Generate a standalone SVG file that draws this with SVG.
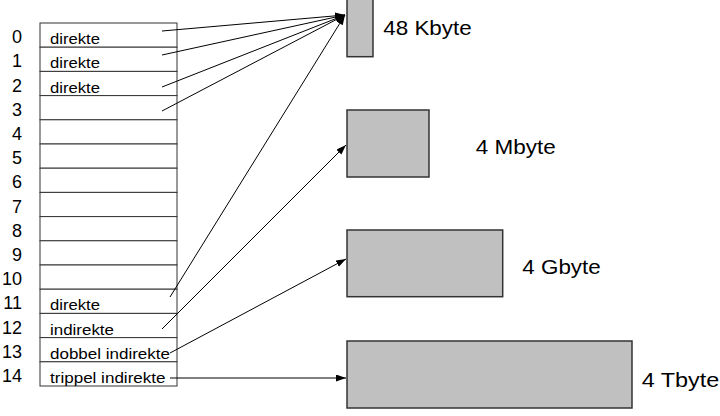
<svg xmlns="http://www.w3.org/2000/svg" width="720" height="416" viewBox="0 0 720 416">
<style>
.row{fill:#fff;stroke:#333;stroke-width:1}
.num{font-family:"Liberation Sans",Arial,sans-serif;font-size:18px;fill:#000;text-anchor:end}
.lbl{font-family:"Liberation Sans",Arial,sans-serif;font-size:15.5px;fill:#000}
.blk{fill:#c0c0c0;stroke:#333;stroke-width:1.5}
.big{font-family:"Liberation Sans",Arial,sans-serif;font-size:20.5px;fill:#000}
.con{fill:none;stroke:#000;stroke-width:1;marker-end:url(#ah)}
</style>
<defs>
<marker id="ah" markerUnits="userSpaceOnUse" markerWidth="11" markerHeight="8" refX="10" refY="3.5" orient="auto">
<path d="M0,0 L10,3.5 L0,7 z" fill="#000"/>
</marker>
</defs>
<rect width="720" height="416" fill="#fff"/>
<g id="table">
<rect class="row" x="40" y="23" width="137" height="24.2"/>
<rect class="row" x="40" y="47.2" width="137" height="24.2"/>
<rect class="row" x="40" y="71.4" width="137" height="24.2"/>
<rect class="row" x="40" y="95.6" width="137" height="24.2"/>
<rect class="row" x="40" y="119.8" width="137" height="24.2"/>
<rect class="row" x="40" y="144" width="137" height="24.2"/>
<rect class="row" x="40" y="168.2" width="137" height="24.2"/>
<rect class="row" x="40" y="192.4" width="137" height="24.2"/>
<rect class="row" x="40" y="216.6" width="137" height="24.2"/>
<rect class="row" x="40" y="240.8" width="137" height="24.2"/>
<rect class="row" x="40" y="265" width="137" height="24.2"/>
<rect class="row" x="40" y="289.2" width="137" height="24.2"/>
<rect class="row" x="40" y="313.4" width="137" height="24.2"/>
<rect class="row" x="40" y="337.6" width="137" height="24.2"/>
<rect class="row" x="40" y="361.8" width="137" height="24.2"/>
<text class="num" x="22" y="43.2">0</text>
<text class="num" x="22" y="67.4">1</text>
<text class="num" x="22" y="91.6">2</text>
<text class="num" x="22" y="115.8">3</text>
<text class="num" x="22" y="140">4</text>
<text class="num" x="22" y="164.2">5</text>
<text class="num" x="22" y="188.4">6</text>
<text class="num" x="22" y="212.6">7</text>
<text class="num" x="22" y="236.8">8</text>
<text class="num" x="22" y="261">9</text>
<text class="num" x="22" y="285.2">10</text>
<text class="num" x="22" y="309.4">11</text>
<text class="num" x="22" y="333.6">12</text>
<text class="num" x="22" y="357.8">13</text>
<text class="num" x="22" y="382">14</text>
<text class="lbl" x="50" y="44.2" textLength="50" lengthAdjust="spacingAndGlyphs">direkte</text>
<text class="lbl" x="50" y="68.4" textLength="50" lengthAdjust="spacingAndGlyphs">direkte</text>
<text class="lbl" x="50" y="92.6" textLength="50" lengthAdjust="spacingAndGlyphs">direkte</text>
<text class="lbl" x="50" y="310.4" textLength="50" lengthAdjust="spacingAndGlyphs">direkte</text>
<text class="lbl" x="50" y="334.6" textLength="64" lengthAdjust="spacingAndGlyphs">indirekte</text>
<text class="lbl" x="50" y="358.8" textLength="120" lengthAdjust="spacingAndGlyphs">dobbel indirekte</text>
<text class="lbl" x="50" y="383" textLength="115.5" lengthAdjust="spacingAndGlyphs">trippel indirekte</text>
</g>
<g id="block48k">
<rect class="blk" x="347" y="-2" width="26" height="58.7"/>
<text class="big" x="383.3" y="35" textLength="88.4" lengthAdjust="spacingAndGlyphs">48 Kbyte</text>
</g>
<g id="block4m">
<rect class="blk" x="347" y="110" width="82" height="67"/>
<text class="big" x="475.7" y="154" textLength="80" lengthAdjust="spacingAndGlyphs">4 Mbyte</text>
</g>
<g id="block4g">
<rect class="blk" x="347" y="230" width="155.7" height="66.7"/>
<text class="big" x="522.3" y="274" textLength="78.4" lengthAdjust="spacingAndGlyphs">4 Gbyte</text>
</g>
<g id="block4t">
<rect class="blk" x="347" y="341" width="285" height="67"/>
<text class="big" x="641.7" y="386.7" textLength="77.6" lengthAdjust="spacingAndGlyphs">4 Tbyte</text>
</g>
<g id="connectors">
<line class="con" x1="162" y1="31" x2="345" y2="15"/>
<line class="con" x1="162" y1="55" x2="345" y2="15"/>
<line class="con" x1="162" y1="87" x2="345" y2="15"/>
<line class="con" x1="162" y1="111" x2="345" y2="15"/>
<line class="con" x1="170" y1="297" x2="345" y2="15"/>
<line class="con" x1="162" y1="329" x2="346" y2="145"/>
<line class="con" x1="170" y1="353" x2="346" y2="259"/>
<line class="con" x1="170" y1="378" x2="346" y2="378"/>
</g>
</svg>
